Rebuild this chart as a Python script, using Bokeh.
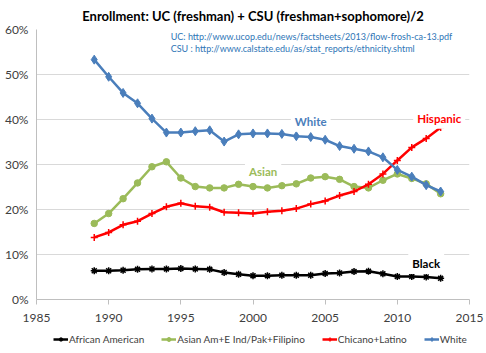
from bokeh.plotting import figure
from bokeh.layouts import column
from bokeh.models import (ColumnDataSource, Legend, LegendItem, Label,
                          NumeralTickFormatter, FixedTicker, Range1d)
from bokeh.embed import file_html
from bokeh.resources import INLINE

years = list(range(1989, 2014))
african_american = [6.4, 6.4, 6.5, 6.7, 6.8, 6.8, 6.9, 6.8, 6.7, 6.0, 5.6, 5.3, 5.3, 5.4, 5.4,
                    5.4, 5.8, 5.9, 6.2, 6.3, 5.7, 5.1, 5.1, 5.0, 4.7]
asian = [16.9, 19.1, 22.4, 25.9, 29.5, 30.6, 27.0, 25.1, 24.8, 24.8, 25.6, 25.1, 24.8, 25.3, 25.7,
         27.0, 27.3, 26.7, 25.1, 24.8, 26.5, 27.9, 26.9, 25.7, 23.5]
latino = [13.8, 14.9, 16.6, 17.4, 19.1, 20.6, 21.4, 20.7, 20.5, 19.4, 19.3, 19.1, 19.5, 19.7, 20.2,
          21.2, 21.9, 23.1, 24.0, 25.6, 27.9, 30.9, 33.8, 35.8, 38.2]
white = [53.3, 49.5, 45.9, 43.6, 40.2, 37.1, 37.1, 37.4, 37.6, 35.1, 36.7, 36.9, 36.9, 36.8, 36.3,
         36.1, 35.5, 34.1, 33.5, 32.9, 31.6, 28.8, 27.3, 25.4, 24.0]
series_names = ["African American", "Asian Am+E Ind/Pak+Filipino", "Chicano+Latino", "White"]
x_ticks = [1985, 1990, 1995, 2000, 2005, 2010, 2015]
y_ticks = [0, 0.1, 0.2, 0.3, 0.4, 0.5, 0.6]

src = ColumnDataSource(dict(
    year=years,
    aa=[v / 100 for v in african_american],
    asian=[v / 100 for v in asian],
    latino=[v / 100 for v in latino],
    white=[v / 100 for v in white],
))

FONT = "Lato"
p = figure(width=486, height=327, output_backend="svg", toolbar_location=None,
           x_range=Range1d(1985, 2015), y_range=Range1d(0, 0.6),
           min_border_left=36, min_border_right=17, min_border_bottom=28, min_border_top=0)
p.title.text = "Enrollment: UC (freshman) + CSU (freshman+sophomore)/2"
p.title.align = "center"
p.title.text_font = FONT
p.title.text_font_size = "13px"
p.title.text_font_style = "bold"
p.title.text_color = "#000000"
p.title.offset = -8
p.title.standoff = 11

p.outline_line_color = None
p.xgrid.grid_line_color = None
p.ygrid.grid_line_color = "#d9d9d9"
p.ygrid.grid_line_width = 1

p.xaxis.ticker = FixedTicker(ticks=x_ticks)
p.yaxis.ticker = FixedTicker(ticks=y_ticks)
p.yaxis.formatter = NumeralTickFormatter(format="0%")
for ax in (p.xaxis, p.yaxis):
    ax.axis_line_color = "#bfbfbf"
    ax.major_label_text_font = FONT
    ax.major_label_text_font_size = "12px"
    ax.major_label_text_color = "#404040"
    ax.minor_tick_line_color = None
    ax.minor_tick_out = 0
p.xaxis.major_tick_line_color = "#bfbfbf"
p.xaxis.major_tick_in = 0
p.xaxis.major_tick_out = 5
p.xaxis.major_label_standoff = 9
p.yaxis.major_tick_line_color = None
p.yaxis.major_tick_in = 0
p.yaxis.major_tick_out = 0
p.yaxis.major_label_standoff = 8

lw = 2.5
styles = [
    dict(color="#000000", marker="asterisk", size=7, mlw=1.5),
    dict(color="#9bbb59", marker="circle", size=6.5, mlw=1),
    dict(color="#ff0000", marker="cross", size=7, mlw=1.5),
    dict(color="#4a7ebb", marker="diamond", size=9, mlw=1),
]
cols = ["aa", "asian", "latino", "white"]
for c, st in zip(cols, styles):
    p.line("year", c, source=src, color=st["color"], line_width=lw)
    p.scatter("year", c, source=src, marker=st["marker"], color=st["color"],
              size=st["size"], line_width=st["mlw"])

def series_label(x, y, text, color):
    p.add_layout(Label(x=x, y=y, text=text, text_color=color, text_font=FONT,
                       text_font_size="11.5px", text_font_style="bold",
                       text_align="center", text_baseline="middle",
                       background_fill_color="white", padding=4))

series_label(2004.0, 0.396, "White", "#4a7ebb")
series_label(2012.9, 0.403, "Hispanic", "#ff0000")
series_label(2000.7, 0.284, "Asian", "#9bbb59")
series_label(2012.0, 0.08, "Black", "#000000")

for yv, txt in ((0.584, "UC:  http://www.ucop.edu/news/factsheets/2013/flow-frosh-ca-13.pdf"),
                (0.558, "CSU : http://www.calstate.edu/as/stat_reports/ethnicity.shtml")):
    p.add_layout(Label(x=1994.3, y=yv, text=txt, text_color="#2e75b6", text_font=FONT,
                       text_font_size="9px", text_baseline="middle"))

# legend strip below the chart (placeholder renderers only supply the legend swatches)
lf = figure(width=486, height=26, output_backend="svg", toolbar_location=None,
            x_range=Range1d(0, 1), y_range=Range1d(0, 1),
            min_border_left=36, min_border_right=17, min_border_top=0, min_border_bottom=0,
            x_axis_location=None, y_axis_location=None)
lf.outline_line_color = None
lf.xgrid.grid_line_color = None
lf.ygrid.grid_line_color = None
nan = float("nan")
placeholder = ColumnDataSource(dict(x=[nan], y=[nan]))
items = []
for name, st in zip(series_names, styles):
    rl = lf.line("x", "y", source=placeholder, color=st["color"], line_width=lw)
    rm = lf.scatter("x", "y", source=placeholder, marker=st["marker"], color=st["color"],
                    size=st["size"], line_width=st["mlw"])
    items.append(LegendItem(label=name, renderers=[rl, rm]))
legend = Legend(items=items, orientation="horizontal", location=(17, 8),
                border_line_color=None, background_fill_alpha=0,
                label_text_font=FONT, label_text_font_size="10px",
                label_text_color="#404040", glyph_width=15, glyph_height=10,
                label_standoff=1, label_height=10, spacing=17, padding=0, margin=0)
lf.add_layout(legend, "center")

layout = column(p, lf, spacing=0)
open("out.html", "w").write(file_html(layout, INLINE))
